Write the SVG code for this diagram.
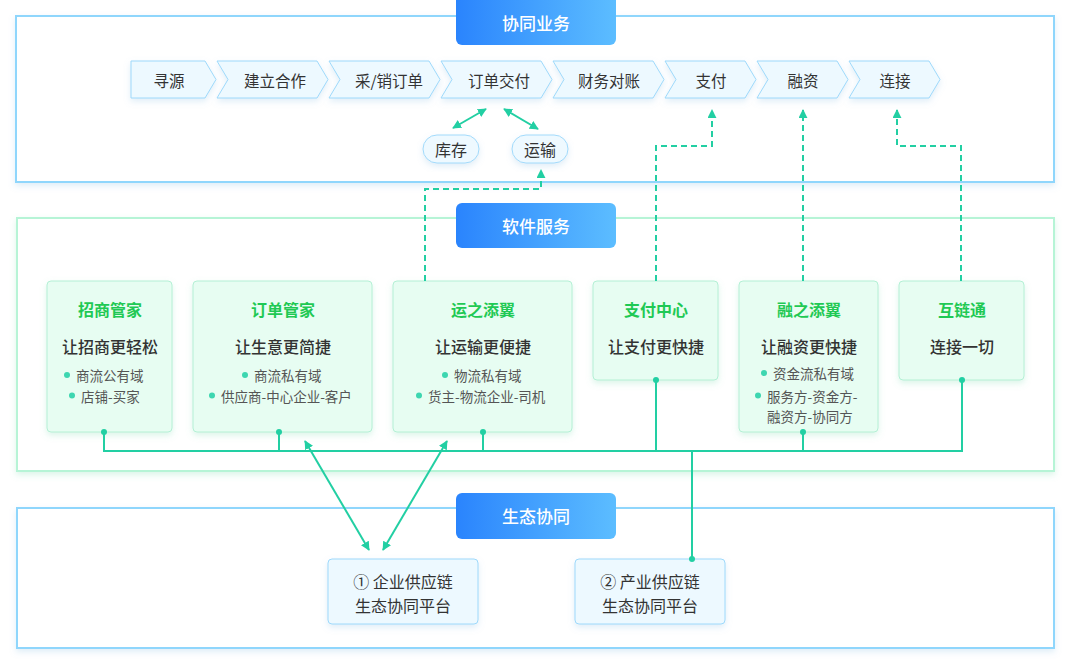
<svg xmlns="http://www.w3.org/2000/svg" width="1071" height="669" viewBox="0 0 1071 669">
<defs>
<linearGradient id="tg" x1="0" y1="0" x2="1" y2="0">
<stop offset="0" stop-color="#2a84fd"/>
<stop offset="1" stop-color="#5cbdff"/>
</linearGradient>
<filter id="sh" x="-10%" y="-20%" width="120%" height="150%">
<feDropShadow dx="0" dy="3" stdDeviation="3" flood-color="#7fb8e0" flood-opacity="0.25"/>
</filter>
<filter id="shg" x="-10%" y="-10%" width="120%" height="130%">
<feDropShadow dx="0" dy="3" stdDeviation="3" flood-color="#6fd6a8" flood-opacity="0.25"/>
</filter>
<marker id="ah" viewBox="0 0 10 10" refX="9" refY="5" markerWidth="9" markerHeight="9" markerUnits="userSpaceOnUse" orient="auto-start-reverse">
<path d="M0,0 L10,5 L0,10 z" fill="#22cfa3"/>
</marker>
</defs>
<style>
.sec1{fill:#fff;stroke:#8fd6fc;stroke-width:2}
.sec2{fill:#fff;stroke:#b6f4d6;stroke-width:2}
.ttl{fill:url(#tg)}
.ttxt{font-family:"Noto Sans CJK SC","Noto Sans",sans-serif;font-size:17px;font-weight:500;fill:#fff;text-anchor:middle;dominant-baseline:central}
.chev{fill:#edf9ff;stroke:#9ed9fb;stroke-width:1}
.ctxt{font-family:"Noto Sans CJK SC","Noto Sans",sans-serif;font-size:15.5px;fill:#333;text-anchor:middle;dominant-baseline:central}
.pill{fill:#eef9ff;stroke:#a2dafb;stroke-width:1}
.card{fill:#e7fdf2;stroke:#b4f0d5;stroke-width:1}
.cttl{font-family:"Noto Sans CJK SC","Noto Sans",sans-serif;font-size:16px;font-weight:bold;fill:#1fc954;text-anchor:middle;dominant-baseline:central}
.csub{font-family:"Noto Sans CJK SC","Noto Sans",sans-serif;font-size:16px;font-weight:500;fill:#333;text-anchor:middle;dominant-baseline:central}
.cb{font-family:"Noto Sans CJK SC","Noto Sans",sans-serif;font-size:13.5px;fill:#555;dominant-baseline:central}
.dot{fill:#3dd6b0}
.plat{fill:#edf9ff;stroke:#9ed9fb;stroke-width:1}
.ptxt{font-family:"Noto Sans CJK SC","Noto Sans",sans-serif;font-size:16px;fill:#333;text-anchor:middle;dominant-baseline:central}
.ln{fill:none;stroke:#22cfa3;stroke-width:2}
.dash{fill:none;stroke:#22cfa3;stroke-width:2;stroke-dasharray:6 4}
.jd{fill:#22cfa3}
</style>

<g id="section-collab">
<rect class="sec1" x="16" y="16" width="1038" height="166" filter="url(#sh)"/>
<rect class="ttl" x="456" y="-6" width="160" height="51" rx="6"/>
<text class="ttxt" x="536" y="22.5">协同业务</text>
</g>

<g id="chevrons">
<g id="c-xunyuan"><polygon class="chev" points="131,61 205,61 216,79.5 205,98 131,98" filter="url(#sh)"/><text class="ctxt" x="169" y="79.5">寻源</text></g>
<g id="c-jianli"><polygon class="chev" points="217,61 317,61 328,79.5 317,98 217,98 228,79.5" filter="url(#sh)"/><text class="ctxt" x="275" y="79.5">建立合作</text></g>
<g id="c-caixiao"><polygon class="chev" points="329,61 429,61 440,79.5 429,98 329,98 340,79.5" filter="url(#sh)"/><text class="ctxt" x="389" y="79.5">采/销订单</text></g>
<g id="c-jiaofu"><polygon class="chev" points="441,61 541,61 552,79.5 541,98 441,98 452,79.5" filter="url(#sh)"/><text class="ctxt" x="499" y="79.5">订单交付</text></g>
<g id="c-caiwu"><polygon class="chev" points="553,61 653,61 664,79.5 653,98 553,98 564,79.5" filter="url(#sh)"/><text class="ctxt" x="609" y="79.5">财务对账</text></g>
<g id="c-zhifu"><polygon class="chev" points="665,61 745,61 756,79.5 745,98 665,98 676,79.5" filter="url(#sh)"/><text class="ctxt" x="711" y="79.5">支付</text></g>
<g id="c-rongzi"><polygon class="chev" points="757,61 837,61 848,79.5 837,98 757,98 768,79.5" filter="url(#sh)"/><text class="ctxt" x="803" y="79.5">融资</text></g>
<g id="c-lianjie"><polygon class="chev" points="849,61 929,61 940,79.5 929,98 849,98 860,79.5" filter="url(#sh)"/><text class="ctxt" x="895" y="79.5">连接</text></g>
</g>

<g id="n-kucun"><rect class="pill" x="423" y="135" width="56" height="28" rx="14" filter="url(#sh)"/><text class="ctxt" x="451" y="148.5" style="font-size:16px">库存</text></g>
<g id="n-yunshu"><rect class="pill" x="512" y="135" width="56" height="28" rx="14" filter="url(#sh)"/><text class="ctxt" x="540" y="148.5" style="font-size:16px">运输</text></g>

<g id="section-software">
<rect class="sec2" x="17" y="218" width="1037" height="253" filter="url(#shg)"/>
<rect class="ttl" x="456" y="203" width="160" height="45" rx="6"/>
<text class="ttxt" x="536" y="225">软件服务</text>
</g>

<g id="card-zhaoshang">
<rect class="card" x="47" y="281" width="125" height="151" rx="4" filter="url(#shg)"/>
<text class="cttl" x="110" y="308.5">招商管家</text>
<text class="csub" x="110" y="345.5">让招商更轻松</text>
<circle class="dot" cx="67" cy="375" r="3"/><text class="cb" x="76" y="375">商流公有域</text>
<circle class="dot" cx="72" cy="395.5" r="3"/><text class="cb" x="81" y="395.5">店铺-买家</text>
</g>
<g id="card-dingdan">
<rect class="card" x="193" y="281" width="179" height="151" rx="4" filter="url(#shg)"/>
<text class="cttl" x="283" y="308.5">订单管家</text>
<text class="csub" x="283" y="345.5">让生意更简捷</text>
<circle class="dot" cx="245" cy="375" r="3"/><text class="cb" x="254" y="375">商流私有域</text>
<circle class="dot" cx="212" cy="395.5" r="3"/><text class="cb" x="221" y="395.5">供应商-中心企业-客户</text>
</g>
<g id="card-yunzhi">
<rect class="card" x="393" y="281" width="179" height="151" rx="4" filter="url(#shg)"/>
<text class="cttl" x="483" y="308.5">运之添翼</text>
<text class="csub" x="483" y="345.5">让运输更便捷</text>
<circle class="dot" cx="445" cy="375" r="3"/><text class="cb" x="454" y="375">物流私有域</text>
<circle class="dot" cx="419" cy="395.5" r="3"/><text class="cb" x="428" y="395.5">货主-物流企业-司机</text>
</g>
<g id="card-zhifu">
<rect class="card" x="593" y="281" width="125" height="99" rx="4" filter="url(#shg)"/>
<text class="cttl" x="656" y="308.5">支付中心</text>
<text class="csub" x="656" y="345.5">让支付更快捷</text>
</g>
<g id="card-rongzhi">
<rect class="card" x="739" y="281" width="139" height="151" rx="4" filter="url(#shg)"/>
<text class="cttl" x="809" y="308.5">融之添翼</text>
<text class="csub" x="809" y="345.5">让融资更快捷</text>
<circle class="dot" cx="764" cy="373" r="3"/><text class="cb" x="773" y="373">资金流私有域</text>
<circle class="dot" cx="758" cy="395.5" r="3"/><text class="cb" x="767" y="395.5">服务方-资金方-</text>
<text class="cb" x="767" y="415.5">融资方-协同方</text>
</g>
<g id="card-hulian">
<rect class="card" x="899" y="281" width="125" height="99" rx="4" filter="url(#shg)"/>
<text class="cttl" x="962" y="308.5">互链通</text>
<text class="csub" x="962" y="345.5">连接一切</text>
</g>

<g id="section-eco">
<rect class="sec1" x="17" y="508" width="1037" height="140" filter="url(#sh)"/>
<rect class="ttl" x="456" y="493" width="160" height="46" rx="6"/>
<text class="ttxt" x="536" y="515.5">生态协同</text>
</g>

<g id="plat-qiye">
<rect class="plat" x="328" y="559" width="150" height="65" rx="4" filter="url(#sh)"/>
<text class="ptxt" x="403" y="581">① 企业供应链</text>
<text class="ptxt" x="403" y="605">生态协同平台</text>
</g>
<g id="plat-chanye">
<rect class="plat" x="575" y="559" width="150" height="65" rx="4" filter="url(#sh)"/>
<text class="ptxt" x="650" y="581">② 产业供应链</text>
<text class="ptxt" x="650" y="605">生态协同平台</text>
</g>

<g id="connectors">
<line class="ln" x1="453" y1="128" x2="486" y2="109" marker-start="url(#ah)" marker-end="url(#ah)"/>
<line class="ln" x1="504" y1="109" x2="538" y2="129" marker-start="url(#ah)" marker-end="url(#ah)"/>
<polyline class="dash" points="425,281 425,189 541,189 541,170" marker-end="url(#ah)"/>
<polyline class="dash" points="656,281 656,146 712,146 712,110" marker-end="url(#ah)"/>
<polyline class="dash" points="803,281 803,110" marker-end="url(#ah)"/>
<polyline class="dash" points="961,281 961,146 897,146 897,110" marker-end="url(#ah)"/>
<polyline class="ln" points="104,432 104,451 962,451 962,380"/>
<line class="ln" x1="279" y1="432" x2="279" y2="451"/>
<line class="ln" x1="483" y1="432" x2="483" y2="451"/>
<line class="ln" x1="656" y1="380" x2="656" y2="451"/>
<line class="ln" x1="803" y1="432" x2="803" y2="451"/>
<line class="ln" x1="692" y1="451" x2="692" y2="559"/>
<line class="ln" x1="305" y1="441" x2="369" y2="550" marker-start="url(#ah)" marker-end="url(#ah)"/>
<line class="ln" x1="447" y1="441" x2="383" y2="550" marker-start="url(#ah)" marker-end="url(#ah)"/>
<circle class="jd" cx="104" cy="432" r="3"/>
<circle class="jd" cx="279" cy="432" r="3"/>
<circle class="jd" cx="483" cy="432" r="3"/>
<circle class="jd" cx="656" cy="380" r="3"/>
<circle class="jd" cx="803" cy="432" r="3"/>
<circle class="jd" cx="962" cy="380" r="3"/>
<circle class="jd" cx="692" cy="559" r="3"/>
</g>
</svg>
